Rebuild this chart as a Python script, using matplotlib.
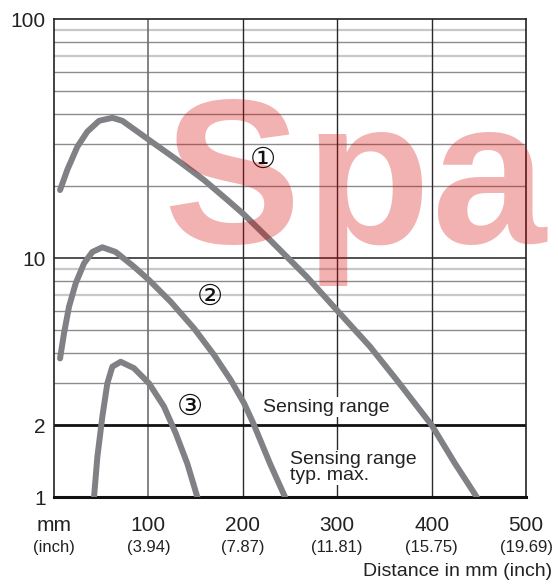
import numpy as np
import matplotlib
matplotlib.use("Agg")
import matplotlib.pyplot as plt

plt.rcParams['font.family'] = ['Liberation Sans', 'DejaVu Sans']

# curve data (distance mm, value)
c1_mm = [6.4, 14.1, 24.7, 35.3, 47.7, 61.8, 72.4, 100.6, 130.6, 158.9, 183.6, 200.5,
         228.8, 267.7, 299.5, 334.7, 363, 387.7, 400, 424.8, 447.8]
c1_val = [19.25, 23.4, 29.2, 33.8, 37.5, 38.6, 37.5, 31.2, 25.7, 21.2, 17.5, 15.3,
          11.9, 8.35, 6.06, 4.26, 3.09, 2.31, 2.0, 1.38, 1.0]

c2_mm = [6.4, 10.6, 15.9, 23.0, 31.8, 40.6, 51.2, 65.3, 84.7, 100.6, 123.6, 148.3,
         169.5, 187.1, 201.3, 211.2, 228.8, 244.7]
c2_val = [3.80, 4.84, 6.26, 7.84, 9.5, 10.6, 11.09, 10.6, 9.2, 8.09, 6.56, 5.08,
          3.93, 3.09, 2.47, 2.03, 1.38, 1.0]

c3_mm = [42.4, 45.9, 51.2, 56.5, 61.8, 70.6, 84.7, 100.6, 116.5, 128.9, 141.2, 151.8]
c3_val = [1.0, 1.47, 2.17, 2.99, 3.51, 3.68, 3.46, 2.99, 2.39, 1.85, 1.38, 1.0]

x_ticks = [100, 200, 300, 400, 500]
inch_labels = ['3.94', '7.87', '11.81', '15.75', '19.69']
y_ticks = [1, 2, 10, 100]

grid_mid = [3, 4, 5, 6, 8, 20, 30, 40, 50, 60, 80]
grid_light = [7, 9, 70, 90]

fig = plt.figure(figsize=(5.58, 5.85), dpi=100)
ax = fig.add_axes([0.0968, 0.1504, 0.8459, 0.8171])
ax.set_yscale('log')
ax.set_xlim(0, 500)
ax.set_ylim(1, 100)

# grid
for v in grid_mid:
    ax.axhline(v, color='#8c8c8c', lw=1.0, zorder=1)
for v in grid_light:
    ax.axhline(v, color='#c8c8c8', lw=1.6, zorder=1)
ax.axhline(10, color='#333333', lw=1.2, zorder=1)
ax.axhline(2, color='#111111', lw=2.0, zorder=2)
ax.axvline(100, color='#6e6e6e', lw=1.2, zorder=1)
for v in x_ticks[1:-1]:
    ax.axvline(v, color='#2a2a2a', lw=1.0, zorder=1)

for s in ['top', 'left', 'right']:
    ax.spines[s].set_color('#222222')
    ax.spines[s].set_linewidth(1.2)
ax.spines['bottom'].set_color('#111111')
ax.spines['bottom'].set_linewidth(2.2)

curve_kw = dict(color='#808184', lw=4.3, solid_capstyle='round', solid_joinstyle='round', zorder=3)
ax.plot(c1_mm, c1_val, **curve_kw)
ax.plot(c2_mm, c2_val, **curve_kw)
ax.plot(c3_mm, c3_val, **curve_kw)

# ticks
ax.set_yticks(y_ticks)
ax.set_yticklabels([str(v) for v in y_ticks], fontsize=15, color='#222222')
ax.yaxis.set_minor_locator(matplotlib.ticker.NullLocator())
ax.set_xticks([])
ax.tick_params(axis='y', length=0, pad=6)

xtr = ax.get_xaxis_transform()
ax.text(0, -0.06, 'mm', transform=xtr, ha='center', va='center', fontsize=15, color='#222222')
ax.text(0, -0.106, '(inch)', transform=xtr, ha='center', va='center', fontsize=12, color='#222222')
for xv, lab in zip(x_ticks, inch_labels):
    ax.text(xv, -0.06, str(xv), transform=xtr, ha='center', va='center', fontsize=15, color='#222222')
    ax.text(xv, -0.106, '(' + lab + ')', transform=xtr, ha='center', va='center', fontsize=12, color='#222222')
fig.text(0.990, 0.016, 'Distance in mm (inch)', ha='right', va='baseline', fontsize=14, color='#222222')

# annotations
for xm, yv, lab in [(221, 25.7, '\u2460'), (165, 6.87, '\u2461'), (144, 2.38, '\u2462')]:
    ax.text(xm, yv, lab, fontsize=21, ha='center', va='center', color='#111111',
            family=['DejaVu Sans'], zorder=4)
ax.text(221, 2.38, 'Sensing range', fontsize=14, ha='left', va='center', color='#222222', zorder=4,
        bbox=dict(facecolor='white', edgecolor='none', pad=1))
ax.text(250, 1.33, 'Sensing range\ntyp. max.', fontsize=14, ha='left', va='center', color='#222222',
        linespacing=0.9, zorder=4, bbox=dict(facecolor='white', edgecolor='none', pad=1))

# watermark, letters placed one by one
for fx, ch in [(0.292, 'S'), (0.545, 'p'), (0.775, 'a')]:
    fig.text(fx, 0.585, ch, fontsize=148, fontweight='bold', color=(0.85, 0.0, 0.0), alpha=0.3,
             ha='left', va='baseline', zorder=10)

fig.savefig('out.png', dpi=100)
